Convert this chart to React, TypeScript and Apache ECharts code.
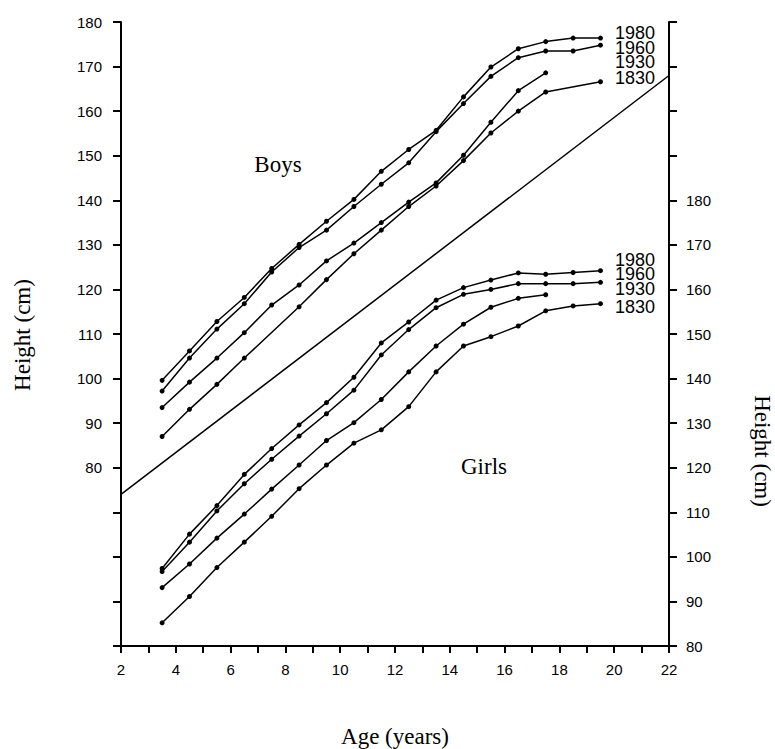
import React, { useEffect, useRef } from "react";
import * as echarts from "echarts";

const ages = [3.5, 4.5, 5.5, 6.5, 7.5, 8.5, 9.5, 10.5, 11.5, 12.5, 13.5, 14.5, 15.5, 16.5, 17.5, 18.5, 19.5];

const boys1980 = [99.6, 106.2, 112.8, 118.2, 124.7, 130.1, 135.3, 140.2, 146.5, 151.4, 155.7, 163.2, 169.9, 174.0, 175.6, 176.4, 176.4];
const boys1960 = [97.2, 104.6, 111.1, 116.8, 123.9, 129.4, 133.3, 138.6, 143.6, 148.4, 155.4, 161.7, 167.8, 172.0, 173.5, 173.5, 174.8];
const boys1930 = [93.5, 99.2, 104.6, 110.3, 116.5, 121.0, 126.4, 130.4, 135.0, 139.6, 143.9, 150.1, 157.5, 164.6, 168.6, null, null];
const boys1830 = [87.0, 93.1, 98.7, 104.6, null, 116.1, 122.2, 128.0, 133.3, 138.6, 143.2, 148.9, 155.1, 160.0, 164.3, null, 166.6];

const girls1980 = [97.4, 105.1, 111.5, 118.5, 124.3, 129.6, 134.6, 140.3, 148.0, 152.7, 157.6, 160.4, 162.1, 163.7, 163.4, 163.8, 164.2];
const girls1960 = [96.7, 103.3, 110.3, 116.4, 121.9, 127.1, 132.1, 137.4, 145.3, 151.0, 155.9, 158.9, 160.0, 161.3, 161.3, 161.3, 161.6];
const girls1930 = [93.1, 98.4, 104.2, 109.6, 115.2, 120.6, 126.1, 130.1, 135.3, 141.5, 147.3, 152.2, 156.0, 158.0, 158.8, null, null];
const girls1830 = [85.2, 91.1, 97.6, 103.3, 109.1, 115.3, 120.6, 125.5, 128.5, 133.7, 141.5, 147.3, 149.4, 151.8, 155.2, 156.3, 156.8];

const refLineX = [2, 22];
const refLineY = [74, 168];

const yearLabels = ["1980", "1960", "1930", "1830"];

const SANS = "Liberation Sans";
const SERIF = "Liberation Serif";

function toPairs(vals: (number | null)[]) {
  return ages
    .map((a, i) => [a, vals[i]])
    .filter((d) => d[1] !== null && d[1] !== undefined);
}

function lineSeries(name: string, vals: (number | null)[], yAxisIndex: number) {
  return {
    name,
    type: "line",
    yAxisIndex,
    data: toPairs(vals),
    symbol: "circle",
    symbolSize: 5,
    showSymbol: true,
    lineStyle: { color: "#000", width: 1.5 },
    itemStyle: { color: "#000" },
    emphasis: { disabled: true },
    z: 3,
  };
}

export default function App() {
  const ref = useRef<HTMLDivElement>(null);

  useEffect(() => {
    document.body.style.margin = "0";
    if (!ref.current) return;
    const chart = echarts.init(ref.current, undefined, { renderer: "svg" });

    const axisLineStyle = { color: "#000", width: 2 };

    const boysYs = [32.5, 47.8, 61.8, 77.5];
    const girlsYs = [259.5, 274.2, 288.5, 306.8];

    const yearStyle = { fontSize: 18, lineHeight: 13, fontFamily: SANS, fill: "#000", align: "left", verticalAlign: "middle" };
    const serifStyle = { fontSize: 23, fontFamily: SERIF, fill: "#000", align: "center", verticalAlign: "middle" };

    const graphic: any[] = [];
    yearLabels.forEach((t, i) => {
      graphic.push({ type: "text", x: 615, y: boysYs[i], style: { ...yearStyle, text: t } });
      graphic.push({ type: "text", x: 615, y: girlsYs[i], style: { ...yearStyle, text: t } });
    });
    graphic.push({ type: "text", x: 278, y: 164, style: { ...serifStyle, text: "Boys" } });
    graphic.push({ type: "text", x: 484, y: 466, style: { ...serifStyle, text: "Girls" } });
    graphic.push({ type: "text", x: 22, y: 335, rotation: Math.PI / 2, style: { ...serifStyle, text: "Height (cm)" } });
    graphic.push({ type: "text", x: 762, y: 451, rotation: -Math.PI / 2, style: { ...serifStyle, text: "Height (cm)" } });
    graphic.push({ type: "text", x: 395, y: 736, style: { ...serifStyle, text: "Age (years)" } });

    const option: any = {
      animation: false,
      backgroundColor: "#fff",
      grid: { left: 121, right: 106, top: 22, bottom: 103, containLabel: false },
      xAxis: {
        type: "value",
        min: 2,
        max: 22,
        interval: 1,
        axisLine: { show: true, onZero: false, lineStyle: axisLineStyle },
        axisTick: { show: true, length: 7, inside: false, lineStyle: { color: "#000", width: 2 } },
        axisLabel: {
          color: "#000",
          fontSize: 15,
          fontFamily: SANS,
          margin: 16,
          showMinLabel: true,
          showMaxLabel: true,
          formatter: (v: number) => (Math.round(v) % 2 === 0 ? String(v) : ""),
        },
        splitLine: { show: false },
      },
      yAxis: [
        {
          type: "value",
          position: "left",
          min: 40,
          max: 180,
          interval: 10,
          axisLine: { show: true, onZero: false, lineStyle: axisLineStyle },
          axisTick: { show: true, length: 8, lineStyle: { color: "#000", width: 2 } },
          axisLabel: {
            color: "#000",
            fontSize: 15,
            fontFamily: SANS,
            margin: 19,
            formatter: (v: number) => (v >= 80 ? String(v) : ""),
          },
          splitLine: { show: false },
        },
        {
          type: "value",
          position: "right",
          min: 80,
          max: 220,
          interval: 10,
          axisLine: { show: true, onZero: false, lineStyle: axisLineStyle },
          axisTick: { show: true, length: 8, lineStyle: { color: "#000", width: 2 } },
          axisLabel: {
            color: "#000",
            fontSize: 15,
            fontFamily: SANS,
            margin: 17,
            formatter: (v: number) => (v <= 180 ? String(v) : ""),
          },
          splitLine: { show: false },
        },
      ],
      series: [
        {
          name: "reference",
          type: "line",
          yAxisIndex: 0,
          data: refLineX.map((x, i) => [x, refLineY[i]]),
          symbol: "none",
          lineStyle: { color: "#000", width: 1.5 },
          emphasis: { disabled: true },
          z: 2,
        },
        lineSeries("Boys 1980", boys1980, 0),
        lineSeries("Boys 1960", boys1960, 0),
        lineSeries("Boys 1930", boys1930, 0),
        lineSeries("Boys 1830", boys1830, 0),
        lineSeries("Girls 1980", girls1980, 1),
        lineSeries("Girls 1960", girls1960, 1),
        lineSeries("Girls 1930", girls1930, 1),
        lineSeries("Girls 1830", girls1830, 1),
      ],
      graphic,
    };

    chart.setOption(option);
    return () => chart.dispose();
  }, []);

  return <div ref={ref} style={{ position: "absolute", left: 0, top: 0, width: 775, height: 749 }} />;
}
